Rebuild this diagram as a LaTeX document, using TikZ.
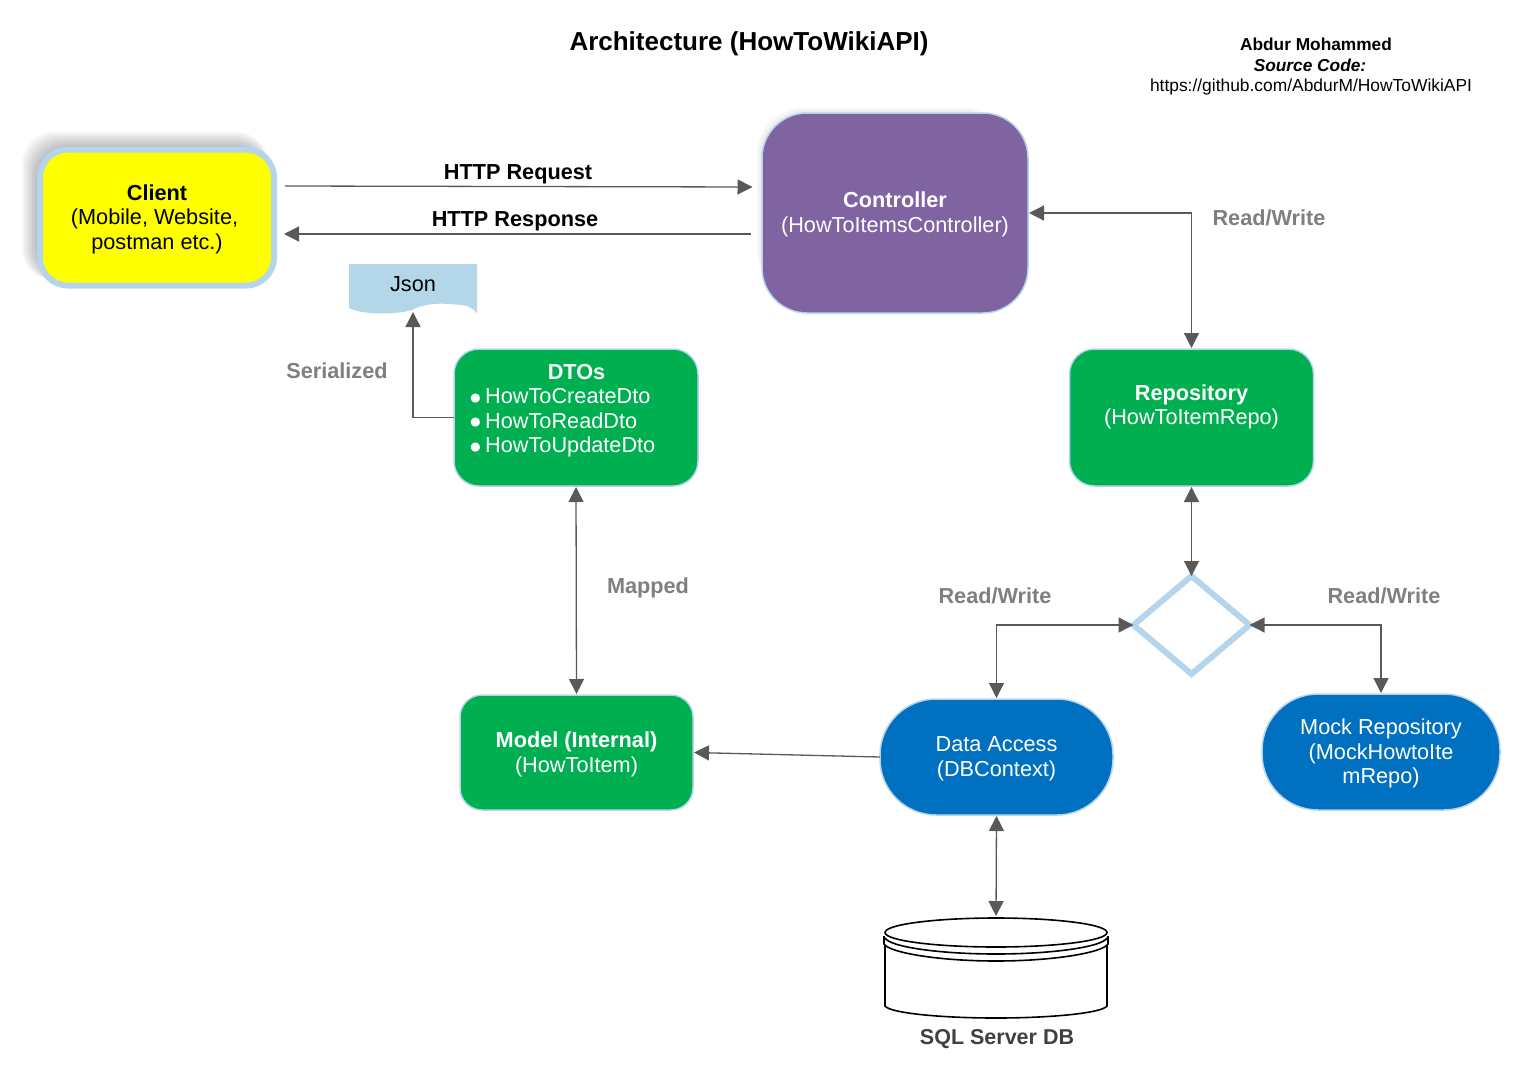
\documentclass[tikz,border=0pt]{standalone}
\usepackage{fontspec}
\setmainfont{Liberation Sans}
\usetikzlibrary{arrows.meta,shapes.geometric,calc}
\definecolor{edgeblue}{HTML}{B4D5EC}
\definecolor{jsonblue}{HTML}{B3D7E8}
\definecolor{boxgreen}{HTML}{00B050}
\definecolor{boxblue}{HTML}{0070C0}
\definecolor{boxpurple}{HTML}{8064A2}
\definecolor{linegrey}{HTML}{595959}
\definecolor{labelgrey}{HTML}{7F7F7F}
\definecolor{clientyellow}{RGB}{255,255,0}
\newcommand{\bodyfont}{\fontsize{21.7}{24.6}\selectfont}
\newcommand{\lblfont}{\fontsize{21.7}{24.6}\bfseries\selectfont}
\newcommand{\firstline}{\rule{0pt}{19pt}}
\newcommand{\dtobullet}[1]{\makebox[16pt][l]{\fontsize{21}{24.6}\selectfont\raisebox{-0.5pt}{\char"25CF}}#1}
\tikzset{
  x=1pt,y=-1pt,
  box/.style={draw=edgeblue,line width=1.5pt,outer sep=0pt,inner sep=0pt,align=center,text=white,font=\bodyfont},
  greenbox/.style={box,fill=boxgreen,rounded corners=25pt,minimum width=244pt,minimum height=137pt},
  bluebox/.style={box,fill=boxblue,rounded corners=56pt,minimum width=233pt,minimum height=116pt},
  conn/.style={draw=linegrey,line width=1.3pt,-{Triangle[length=15pt,width=15pt,fill=linegrey]}},
  bidir/.style={draw=linegrey,line width=1.3pt,{Triangle[length=15pt,width=15pt,fill=linegrey]}-{Triangle[length=15pt,width=15pt,fill=linegrey]}},
  edgelabel/.style={font=\lblfont,text=labelgrey,inner sep=0pt},
  httplabel/.style={font=\lblfont,text=black,inner sep=0pt},
}
\begin{document}
\begin{tikzpicture}
\useasboundingbox (0,0) rectangle (1536,1073);
% title + author
\node[inner sep=0pt,font=\fontsize{26}{30}\bfseries\selectfont] (title) at (749,44) {Architecture (HowToWikiAPI)};
\node[inner sep=0pt,font=\fontsize{17.3}{20}\bfseries\selectfont] (author) at (1316,44) {Abdur Mohammed};
\node[inner sep=0pt,font=\fontsize{17.3}{20}\bfseries\itshape\selectfont] (srccode) at (1310,65) {Source Code:};
\node[inner sep=0pt,font=\fontsize{17.4}{20}\selectfont] (srcurl) at (1311,87) {https://github.com/AbdurM/HowToWikiAPI};
% client shadow (offset to the upper left)
\foreach \g in {0,2,...,14}{
  \fill[black,opacity=0.035,rounded corners=32pt] (36-\g,146-\g) rectangle (268,280);
}
\node[box,line width=6pt,fill=clientyellow,text=black,rounded corners=28pt,minimum width=234pt,minimum height=136pt] (client) at (157,217.5) {\firstline\textbf{Client}\\\mbox{(Mobile, Website,\kern5pt}\\postman etc.)};
% controller
\foreach \g in {0,2,4}{
  \fill[black,opacity=0.03,rounded corners=46pt] (761-\g,112-\g) rectangle (1010,295);
}
\node[box,fill=boxpurple,rounded corners=45pt,minimum width=266pt,minimum height=200pt] (ctrl) at (895,213) {\firstline\textbf{Controller}\\(HowToItemsController)};
% json
\node[inner sep=0pt,outer sep=0pt,minimum width=128pt,minimum height=50pt] (json) at (413,289) {};
\fill[jsonblue] (349,264) -- (477,264) -- (477,313.5) .. controls (472,307) and (468,305) .. (455,304.5) .. controls (440,303) and (425,303) .. (412,310) .. controls (400,314) and (365,316) .. (349,308) -- cycle;
\node[inner sep=0pt,font=\bodyfont] (jsontext) at (413,284) {Json};
% green boxes
\node[greenbox] (dto) at (576,417.5) {};
\node[inner sep=0pt,text=white,font=\bodyfont,anchor=center] (dtotitle) at (576.5,372) {\textbf{DTOs}};
\node[inner sep=0pt,text=white,font=\bodyfont,anchor=west,align=left] (dtolist) at (469,423) {\dtobullet{HowToCreateDto}\\\dtobullet{HowToReadDto}\\\dtobullet{HowToUpdateDto}};
\node[greenbox] (repo) at (1191.5,417.5) {\firstline\textbf{Repository}\\(HowToItemRepo)\\\mbox{}\vphantom{(}};
\node[greenbox,rounded corners=22pt,minimum width=233pt,minimum height=115pt] (model) at (576.5,752.5) {\firstline\textbf{Model (Internal)}\\(HowToItem)};
% blue
\node[bluebox] (data) at (996.5,757) {\firstline Data Access\\(DBContext)};
\node[bluebox,minimum width=238pt] (mock) at (1381,752) {\firstline Mock Repository\\(MockHowtoIte\\mRepo)};
% diamond
\node[diamond,draw=edgeblue,line width=6pt,inner sep=0pt,outer sep=0pt,minimum width=116pt,minimum height=98pt] (gate) at (1191.5,625) {};
% database
\node[inner sep=0pt,outer sep=0pt,minimum width=222pt,minimum height=100pt] (db) at (996,968) {};
\begin{scope}[draw=black,line width=1.6pt]
\draw[fill=white] (885,942) -- (885,1006) .. controls (890,1013) and (940,1018) .. (996,1018) .. controls (1052,1018) and (1102,1013) .. (1107,1006) -- (1107,942);
\draw[fill=white] (884,936) -- (884,944) .. controls (890,953) and (940,961) .. (996,961) .. controls (1052,961) and (1102,953) .. (1108,944) -- (1108,936);
\draw (885,938) .. controls (890,947) and (940,954) .. (996,954) .. controls (1052,954) and (1102,947) .. (1107,938);
\draw[fill=white] (996,932.5) ellipse [x radius=111,y radius=14.5];
\end{scope}
\node[inner sep=0pt,font=\fontsize{21.5}{25}\bfseries\selectfont,text=black!75] (dbtext) at (997,1039) {SQL Server DB};
% connectors
\draw[conn] ([xshift=11pt,yshift=31.5pt]client.east) -- ([xshift=-9.5pt,yshift=26pt]ctrl.west);
\draw[conn] ([xshift=-11pt,yshift=-21pt]ctrl.west) -- ([xshift=10pt,yshift=-16.5pt]client.east);
\draw[bidir] ([xshift=1pt]ctrl.east) -| ([yshift=1pt]repo.north);
\draw[bidir] ([yshift=-1pt]repo.south) -- (gate.north);
\draw[bidir] (gate.west) -| ([yshift=1pt]data.north);
\draw[bidir] (gate.east) -| ([yshift=1pt]mock.north);
\draw[conn] (data.west) -- ([xshift=1pt]model.east);
\draw[bidir] ([yshift=-1pt]data.south) -- ([yshift=2pt]db.north);
\draw[bidir] ([yshift=-1pt]dto.south) -- ([yshift=1pt]model.north);
\draw[conn] (dto.west) -| ([yshift=2pt]json.south);
% labels
\node[httplabel] (lreq) at (518,174) {HTTP Request};
\node[httplabel] (lres) at (515,221) {HTTP Response};
\node[edgelabel] (l1) at (1269,218) {Read/Write};
\node[edgelabel] (l2) at (995,596) {Read/Write};
\node[edgelabel] (l3) at (1384,596) {Read/Write};
\node[edgelabel] (l4) at (337,371) {Serialized};
\node[edgelabel] (l5) at (648,588) {Mapped};
\end{tikzpicture}
\end{document}
